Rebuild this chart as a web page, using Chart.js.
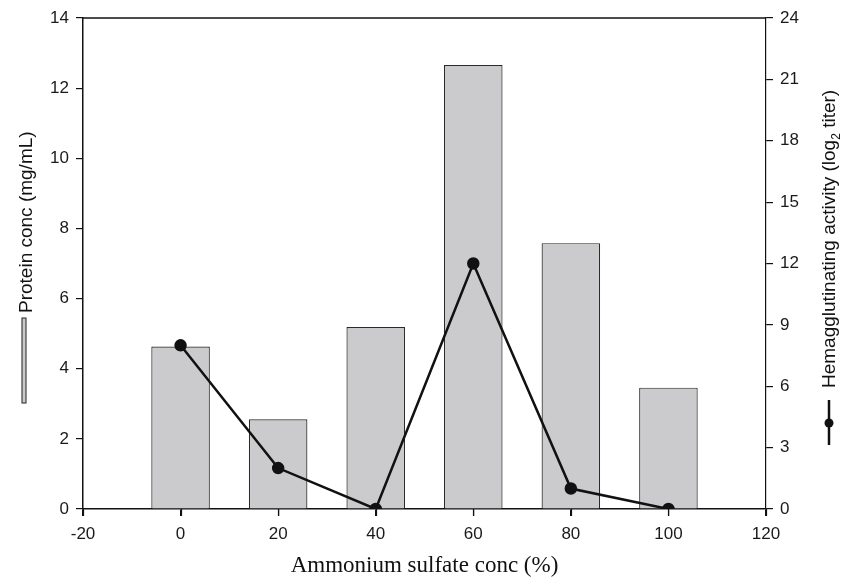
<!DOCTYPE html>
<html>
<head>
<meta charset="utf-8">
<script src="https://cdn.jsdelivr.net/npm/chart.js@4.4.1/dist/chart.umd.min.js"></script>
<style>
  html, body { margin: 0; padding: 0; background: #fff; }
  #wrap { width: 843px; height: 578px; }
</style>
</head>
<body>
<div id="wrap"><canvas id="chart" width="843" height="578"></canvas></div>
<script>
/* ================= DATA ================= */
const concentrations = [0, 20, 40, 60, 80, 100];
const proteinConc = [4.63, 2.56, 5.19, 12.66, 7.58, 3.46];
const hemagActivity = [8, 2, 0, 12, 1, 0];
const xTicks = [-20, 0, 20, 40, 60, 80, 100, 120];
const leftTicks = [0, 2, 4, 6, 8, 10, 12, 14];
const rightTicks = [0, 3, 6, 9, 12, 15, 18, 21, 24];

const SANS = "'Liberation Sans', Arial, Helvetica, sans-serif";
const SERIF = "'Liberation Serif', 'Times New Roman', serif";

/* ================= TITLES + LEGEND GLYPHS ================= */
const decorations = {
  id: "decorations",
  afterDraw(chart) {
    const ctx = chart.ctx;
    const a = chart.chartArea;
    ctx.save();

    // top frame line
    ctx.strokeStyle = "#111";
    ctx.lineWidth = 1.5;
    ctx.beginPath();
    ctx.moveTo(a.left, a.top);
    ctx.lineTo(a.right, a.top);
    ctx.stroke();

    // x tick marks (drawn here so they sit right under the axis)
    const xs = chart.scales.x;
    ctx.lineWidth = 1.2;
    xTicks.forEach(v => {
      const px = Math.round(xs.getPixelForValue(v)) + 0.5;
      ctx.beginPath();
      ctx.moveTo(px, a.bottom);
      ctx.lineTo(px, a.bottom + 7);
      ctx.stroke();
    });

    // x title
    ctx.fillStyle = "#111";
    ctx.font = "23px " + SERIF;
    ctx.textAlign = "center";
    ctx.textBaseline = "alphabetic";
    ctx.fillText("Ammonium sulfate conc (%)", (a.left + a.right) / 2, 572);

    // left title, rotated
    ctx.save();
    ctx.translate(32, 0);
    ctx.rotate(-Math.PI / 2);
    ctx.font = "19px " + SANS;
    ctx.textAlign = "left";
    ctx.fillText("Protein conc (mg/mL)", -313, 0);
    ctx.restore();

    // left glyph: narrow bar
    ctx.fillStyle = "#cbcbcd";
    ctx.strokeStyle = "#222";
    ctx.lineWidth = 1;
    ctx.fillRect(22, 318, 4, 85);
    ctx.strokeRect(22, 318, 4, 85);

    // right title, rotated, with subscript
    ctx.save();
    ctx.translate(835, 0);
    ctx.rotate(-Math.PI / 2);
    ctx.fillStyle = "#111";
    ctx.textAlign = "left";
    let x = -388;
    const part1 = "Hemagglutinating activity (log";
    const part2 = "2";
    const part3 = " titer)";
    ctx.font = "19px " + SANS;
    ctx.fillText(part1, x, 0);
    x += ctx.measureText(part1).width;
    ctx.font = "12px " + SANS;
    ctx.fillText(part2, x, 5);
    x += ctx.measureText(part2).width;
    ctx.font = "19px " + SANS;
    ctx.fillText(part3, x, 0);
    ctx.restore();

    // right glyph: line with dot
    ctx.strokeStyle = "#111";
    ctx.lineWidth = 2.5;
    ctx.beginPath();
    ctx.moveTo(829, 400);
    ctx.lineTo(829, 445);
    ctx.stroke();
    ctx.fillStyle = "#111";
    ctx.beginPath();
    ctx.arc(829, 423, 4.5, 0, Math.PI * 2);
    ctx.fill();

    ctx.restore();
  }
};

/* ================= CHART ================= */
const tickFont = { family: SANS, size: 17 };

new Chart(document.getElementById("chart"), {
  data: {
    datasets: [
      {
        type: "line",
        data: concentrations.map((c, i) => ({ x: c, y: hemagActivity[i] })),
        yAxisID: "y1",
        borderColor: "#111",
        backgroundColor: "#111",
        borderWidth: 2.5,
        pointRadius: 5,
        pointHoverRadius: 5,
        tension: 0,
        order: 0
      },
      {
        type: "bar",
        data: concentrations.map((c, i) => ({ x: c, y: proteinConc[i] })),
        yAxisID: "y",
        backgroundColor: "#cbcbcd",
        borderColor: "#2a2a2a",
        borderWidth: 1.2,
        barPercentage: 0.6,
        categoryPercentage: 1,
        order: 1
      }
    ]
  },
  options: {
    responsive: false,
    animation: false,
    devicePixelRatio: 1,
    layout: { padding: { top: 18, left: 0, right: 0, bottom: 0 } },
    plugins: { legend: { display: false }, tooltip: { enabled: false } },
    scales: {
      x: {
        type: "linear",
        offset: false,
        min: -20,
        max: 120,
        afterBuildTicks: s => { s.ticks = xTicks.map(v => ({ value: v })); },
        afterFit: s => { s.height = 69; },
        grid: { offset: false, drawOnChartArea: false, drawTicks: true, tickLength: 7, color: "#111", lineWidth: 1.2 },
        border: { display: true, color: "#111", width: 1.5 },
        ticks: { font: tickFont, color: "#1a1a1a", padding: 8, maxRotation: 0 }
      },
      y: {
        position: "left",
        min: 0,
        max: 14,
        afterBuildTicks: s => { s.ticks = leftTicks.map(v => ({ value: v })); },
        afterFit: s => { s.width = 83; },
        grid: { drawOnChartArea: false, tickLength: 7, color: "#111", lineWidth: 1.2 },
        border: { display: true, color: "#111", width: 1.5 },
        ticks: { font: tickFont, color: "#1a1a1a", padding: 7 }
      },
      y1: {
        position: "right",
        min: 0,
        max: 24,
        afterBuildTicks: s => { s.ticks = rightTicks.map(v => ({ value: v })); },
        afterFit: s => { s.width = 77; },
        grid: { drawOnChartArea: false, tickLength: 7, color: "#111", lineWidth: 1.2 },
        border: { display: true, color: "#111", width: 1.2 },
        ticks: { font: tickFont, color: "#1a1a1a", padding: 7 }
      }
    }
  },
  plugins: [decorations]
});
</script>
</body>
</html>
